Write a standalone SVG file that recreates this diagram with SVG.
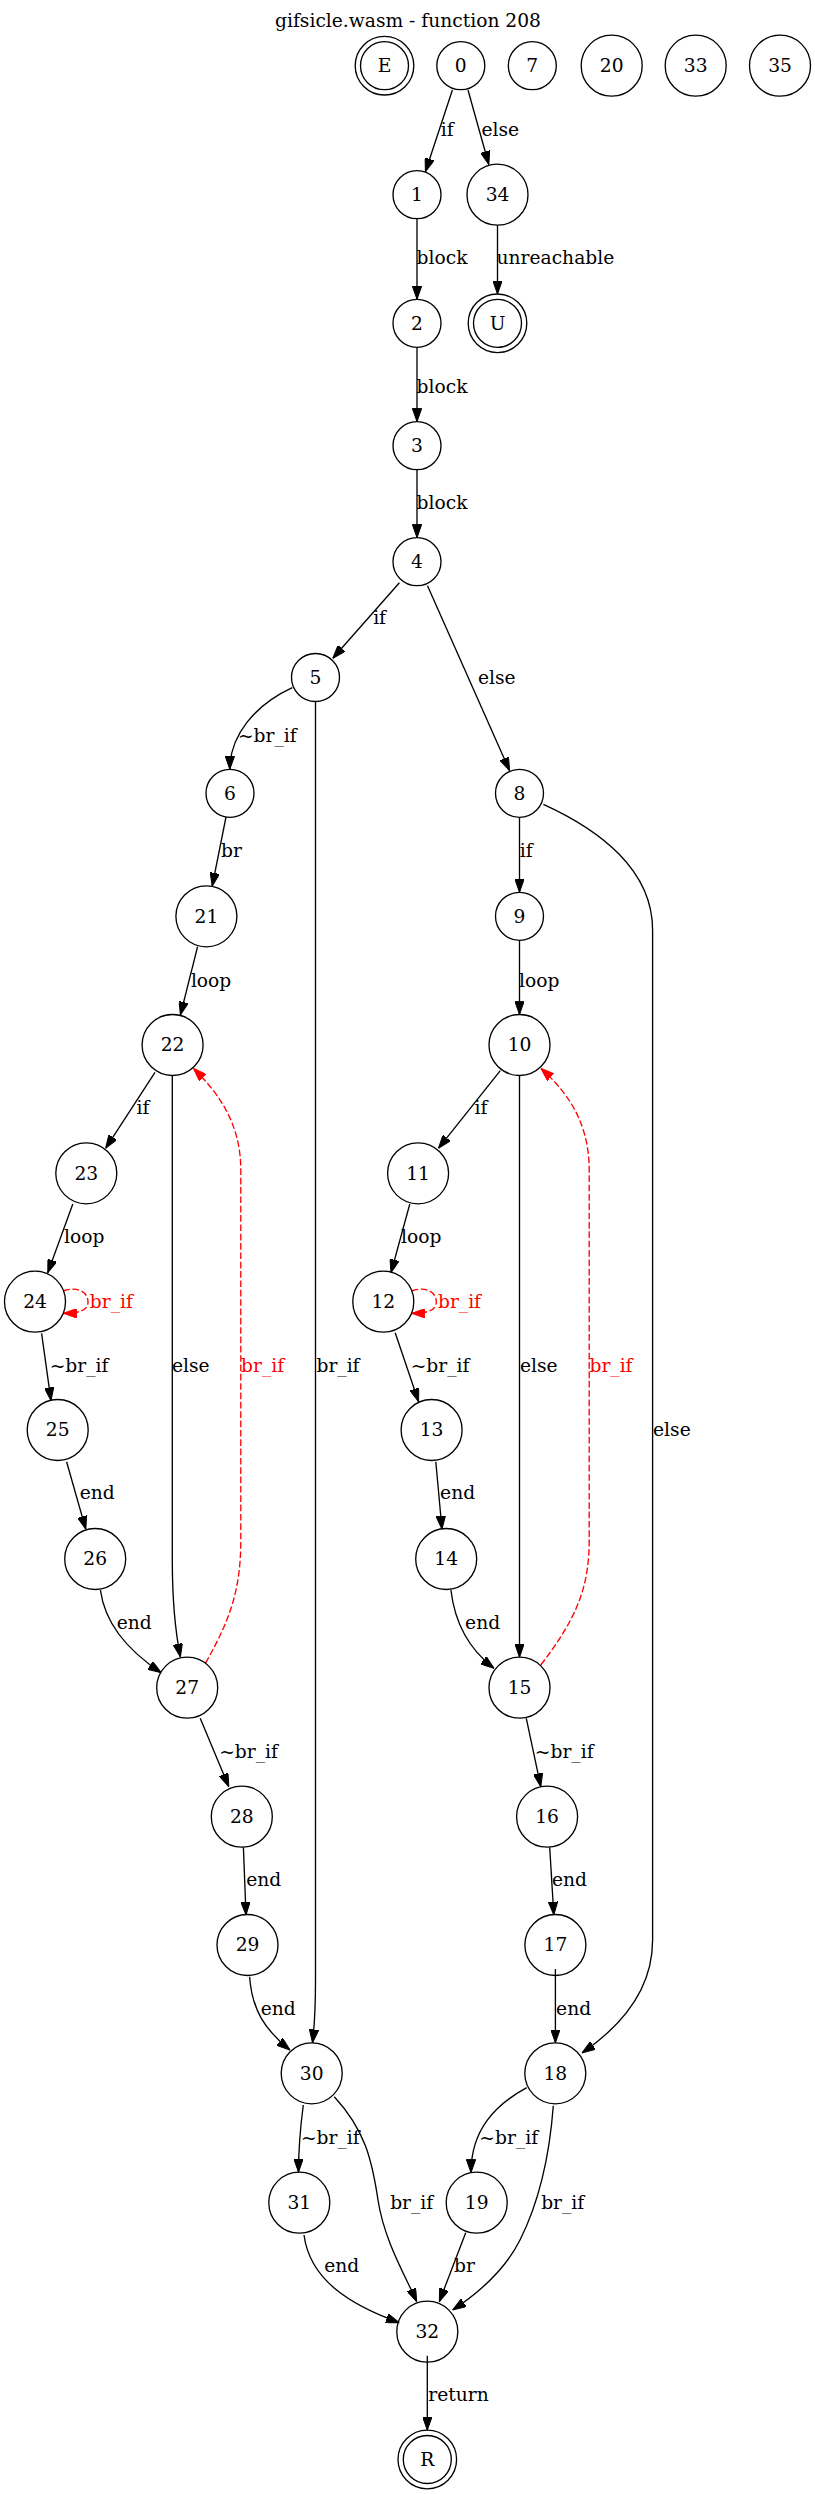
<svg xmlns="http://www.w3.org/2000/svg" width="815" height="2494" viewBox="0 0 815 2494">
<style>
.n circle{fill:none;stroke:#000;stroke-width:1.33}
text{font-family:"DejaVu Serif","Liberation Serif",serif;font-size:18.67px;text-anchor:middle;fill:#000}
.e path{fill:none;stroke:#000;stroke-width:1.33}
.e path.b{marker-end:url(#ab)}
.e path.r{stroke:#ff0000;stroke-dasharray:6.67,2.67;marker-end:url(#ar)}
.e text.r{fill:#ff0000}
</style>
<defs>
<marker id="ab" viewBox="0 0 13.3 9.4" refX="13.3" refY="4.7" markerWidth="13.3" markerHeight="9.4" markerUnits="userSpaceOnUse" orient="auto"><path d="M0,0 L13.3,4.7 L0,9.4 z" fill="#000" stroke="#000" stroke-width="1"/></marker>
<marker id="ar" viewBox="0 0 13.3 9.4" refX="13.3" refY="4.7" markerWidth="13.3" markerHeight="9.4" markerUnits="userSpaceOnUse" orient="auto"><path d="M0,0 L13.3,4.7 L0,9.4 z" fill="#ff0000" stroke="#ff0000" stroke-width="1"/></marker>
</defs>
<rect width="815" height="2494" fill="#fff"/>
<text x="408" y="26.5">gifsicle.wasm - function 208</text>

<g id="edges" class="e">
<path class="b" d="M452.4,90 L425.4,171.7"/><text x="447.2" y="136">if</text>
<path class="b" d="M468,90 L488.8,164.5"/><text x="500.3" y="136">else</text>
<path class="b" d="M417,218.7 L417,299.3"/><text x="442" y="263.5">block</text>
<path class="b" d="M497.5,225.2 L497.5,294"/><text x="555.4" y="264">unreachable</text>
<path class="b" d="M417,347.3 L417,421.7"/><text x="442" y="393">block</text>
<path class="b" d="M417,469.7 L417,537.7"/><text x="442" y="509">block</text>
<path class="b" d="M399.4,582.7 L332.8,658.3"/><text x="379.6" y="624.3">if</text>
<path class="b" d="M427.5,585.7 L509.6,770.7"/><text x="496.7" y="683.7">else</text>
<path class="b" d="M292.3,687.7 C255,705 230,735 229.8,769.3"/><text x="267.3" y="741.7">~br_if</text>
<path class="b" d="M315.5,701.5 L315.5,1980 C315.5,2010 314,2030 312.5,2042.8"/><text x="338" y="1371.7">br_if</text>
<path class="b" d="M226,817 L212.2,886.2"/><text x="231.4" y="857">br</text>
<path class="b" d="M519.5,817.3 L519.5,892.3"/><text x="526.3" y="856.7">if</text>
<path class="b" d="M543.4,804.3 C600,830 652.6,870 652.6,930 L652.6,1940 C652.6,1990 620,2027 582,2053"/><text x="671.9" y="1436">else</text>
<path class="b" d="M519.5,940.3 L519.5,1014.5"/><text x="539.3" y="986.7">loop</text>
<path class="b" d="M197.6,946.7 L180.4,1015"/><text x="211.1" y="986.7">loop</text>
<path class="b" d="M155,1072.3 L105.6,1148.3"/><text x="143" y="1114.3">if</text>
<path class="b" d="M172.3,1075.5 L172.3,1560 C172.3,1600 175,1630 180.4,1657"/><text x="190.8" y="1371.7">else</text>
<path class="r" d="M205.4,1663.3 C230,1620 240.8,1590 240.8,1540 L240.8,1170 C240.8,1120 215,1090 193.4,1068.3"/><text class="r" x="262.6" y="1371.7">br_if</text>
<path class="b" d="M500.3,1070.7 L438.4,1148.3"/><text x="481" y="1114.3">if</text>
<path class="b" d="M519.5,1075.5 L519.5,1657.2"/><text x="538.7" y="1371.7">else</text>
<path class="r" d="M540.8,1665 C575,1620 589.2,1590 589.2,1540 L589.2,1170 C589.2,1120 565,1090 540.8,1068.3"/><text class="r" x="611" y="1371.7">br_if</text>
<path class="b" d="M72.8,1204 L47.8,1272.7"/><text x="84.2" y="1243.3">loop</text>
<path class="b" d="M409.8,1204 L391,1272.7"/><text x="421.2" y="1243.3">loop</text>
<path class="r" d="M63.3,1291 C78,1286 88,1292 88,1302 C88,1310 80,1313.3 63.3,1313.3"/><text class="r" x="111.3" y="1307.7">br_if</text>
<path class="r" d="M411.6,1291 C426.3,1286 436.3,1292 436.3,1302 C436.3,1310 428.3,1313.3 411.6,1313.3"/><text class="r" x="459.5" y="1307.7">br_if</text>
<path class="b" d="M41.6,1333.3 L51,1400.7"/><text x="79" y="1371.7">~br_if</text>
<path class="b" d="M395.2,1332.7 L418.6,1401.7"/><text x="440" y="1371.7">~br_if</text>
<path class="b" d="M66.6,1461.7 L85.8,1529.3"/><text x="97.2" y="1499.3">end</text>
<path class="b" d="M435.8,1461.7 L442,1529.3"/><text x="457.6" y="1499.3">end</text>
<path class="b" d="M100.4,1590 C105,1625 130,1652 161.2,1672.7"/><text x="134.2" y="1628.7">end</text>
<path class="b" d="M450.9,1590 C455,1625 470,1650 494,1668.3"/><text x="482.6" y="1628.7">end</text>
<path class="b" d="M200.2,1718.3 L228.8,1786.7"/><text x="248.6" y="1757.7">~br_if</text>
<path class="b" d="M526.3,1718.3 L540.8,1786.7"/><text x="564.2" y="1757.7">~br_if</text>
<path class="b" d="M243.4,1847.3 L246,1915"/><text x="263.7" y="1886">end</text>
<path class="b" d="M549.7,1847.3 L553.8,1915"/><text x="569.4" y="1886">end</text>
<path class="b" d="M249.6,1976.7 C252,2010 265,2030 290,2050"/><text x="278.2" y="2015">end</text>
<path class="b" d="M555.4,1969 L555.4,2042.8"/><text x="573.6" y="2015">end</text>
<path class="b" d="M303.3,2105 C300,2130 298.5,2150 298.5,2172.2"/><text x="330.3" y="2143.7">~br_if</text>
<path class="b" d="M334.3,2096.7 C365,2130 372,2160 378,2200 C384,2240 405,2275 416.7,2301.7"/><text x="411.7" y="2208.7">br_if</text>
<path class="b" d="M526.7,2087.7 C495,2105 471,2130 471,2172.7"/><text x="508.7" y="2143.7">~br_if</text>
<path class="b" d="M553.3,2105.7 C550,2150 540,2200 520,2240 C505,2270 480,2292 452.7,2310"/><text x="562.7" y="2208.7">br_if</text>
<path class="b" d="M304,2235 C310,2280 350,2305 399.3,2322.7"/><text x="341.7" y="2271.7">end</text>
<path class="b" d="M465.7,2232.7 L439.3,2301.7"/><text x="464.5" y="2271.7">br</text>
<path class="b" d="M427.3,2355.7 L427.3,2430.2"/><text x="458.5" y="2401.3">return</text>
</g>

<g id="nE" class="n"><circle cx="384.5" cy="65.7" r="24"/><circle cx="384.5" cy="65.7" r="29.3"/><text x="384.5" y="72">E</text></g>
<g id="n0" class="n"><circle cx="460.8" cy="65.7" r="24"/><text x="460.8" y="72">0</text></g>
<g id="n7" class="n"><circle cx="532.3" cy="65.7" r="24"/><text x="532.3" y="72">7</text></g>
<g id="n20" class="n"><circle cx="611.7" cy="65.7" r="30.5"/><text x="611.7" y="72">20</text></g>
<g id="n33" class="n"><circle cx="695.7" cy="65.7" r="30.5"/><text x="695.7" y="72">33</text></g>
<g id="n35" class="n"><circle cx="780" cy="65.7" r="30.5"/><text x="780" y="72">35</text></g>
<g id="n1" class="n"><circle cx="417" cy="194.7" r="24"/><text x="417" y="201">1</text></g>
<g id="n34" class="n"><circle cx="497.5" cy="194.7" r="30.5"/><text x="497.5" y="201">34</text></g>
<g id="n2" class="n"><circle cx="417" cy="323.3" r="24"/><text x="417" y="329.6">2</text></g>
<g id="nU" class="n"><circle cx="497.5" cy="323.3" r="24"/><circle cx="497.5" cy="323.3" r="29.3"/><text x="497.5" y="329.6">U</text></g>
<g id="n3" class="n"><circle cx="417" cy="445.7" r="24"/><text x="417" y="452">3</text></g>
<g id="n4" class="n"><circle cx="417" cy="561.7" r="24"/><text x="417" y="568">4</text></g>
<g id="n5" class="n"><circle cx="315.5" cy="677.5" r="24"/><text x="315.5" y="683.8">5</text></g>
<g id="n6" class="n"><circle cx="230" cy="793.3" r="24"/><text x="230" y="799.6">6</text></g>
<g id="n8" class="n"><circle cx="519.5" cy="793.3" r="24"/><text x="519.5" y="799.6">8</text></g>
<g id="n21" class="n"><circle cx="206.4" cy="916.3" r="30.5"/><text x="206.4" y="922.6">21</text></g>
<g id="n9" class="n"><circle cx="519.5" cy="916.3" r="24"/><text x="519.5" y="922.6">9</text></g>
<g id="n22" class="n"><circle cx="172.6" cy="1045" r="30.5"/><text x="172.6" y="1051.3">22</text></g>
<g id="n10" class="n"><circle cx="519.5" cy="1045" r="30.5"/><text x="519.5" y="1051.3">10</text></g>
<g id="n23" class="n"><circle cx="86.3" cy="1173.3" r="30.5"/><text x="86.3" y="1179.6">23</text></g>
<g id="n11" class="n"><circle cx="418.1" cy="1173.3" r="30.5"/><text x="418.1" y="1179.6">11</text></g>
<g id="n24" class="n"><circle cx="35" cy="1301.7" r="30.5"/><text x="35" y="1308">24</text></g>
<g id="n12" class="n"><circle cx="383.3" cy="1301.7" r="30.5"/><text x="383.3" y="1308">12</text></g>
<g id="n25" class="n"><circle cx="57.7" cy="1430" r="30.5"/><text x="57.7" y="1436.3">25</text></g>
<g id="n13" class="n"><circle cx="431.6" cy="1430" r="30.5"/><text x="431.6" y="1436.3">13</text></g>
<g id="n26" class="n"><circle cx="95.2" cy="1559" r="30.5"/><text x="95.2" y="1565.3">26</text></g>
<g id="n14" class="n"><circle cx="446.2" cy="1559" r="30.5"/><text x="446.2" y="1565.3">14</text></g>
<g id="n27" class="n"><circle cx="187.2" cy="1687.7" r="30.5"/><text x="187.2" y="1694">27</text></g>
<g id="n15" class="n"><circle cx="519.5" cy="1687.7" r="30.5"/><text x="519.5" y="1694">15</text></g>
<g id="n28" class="n"><circle cx="241.8" cy="1816.7" r="30.5"/><text x="241.8" y="1823">28</text></g>
<g id="n16" class="n"><circle cx="547.1" cy="1816.7" r="30.5"/><text x="547.1" y="1823">16</text></g>
<g id="n29" class="n"><circle cx="247.5" cy="1945" r="30.5"/><text x="247.5" y="1951.3">29</text></g>
<g id="n17" class="n"><circle cx="555.4" cy="1945" r="30.5"/><text x="555.4" y="1951.3">17</text></g>
<g id="n30" class="n"><circle cx="311.7" cy="2073.3" r="30.5"/><text x="311.7" y="2079.6">30</text></g>
<g id="n18" class="n"><circle cx="555.3" cy="2073.3" r="30.5"/><text x="555.3" y="2079.6">18</text></g>
<g id="n31" class="n"><circle cx="299.3" cy="2202.7" r="30.5"/><text x="299.3" y="2209">31</text></g>
<g id="n19" class="n"><circle cx="476.7" cy="2202.7" r="30.5"/><text x="476.7" y="2209">19</text></g>
<g id="n32" class="n"><circle cx="427.3" cy="2331.7" r="30.5"/><text x="427.3" y="2338">32</text></g>
<g id="nR" class="n"><circle cx="427.3" cy="2459.5" r="24"/><circle cx="427.3" cy="2459.5" r="29.3"/><text x="427.3" y="2465.8">R</text></g>
</svg>
